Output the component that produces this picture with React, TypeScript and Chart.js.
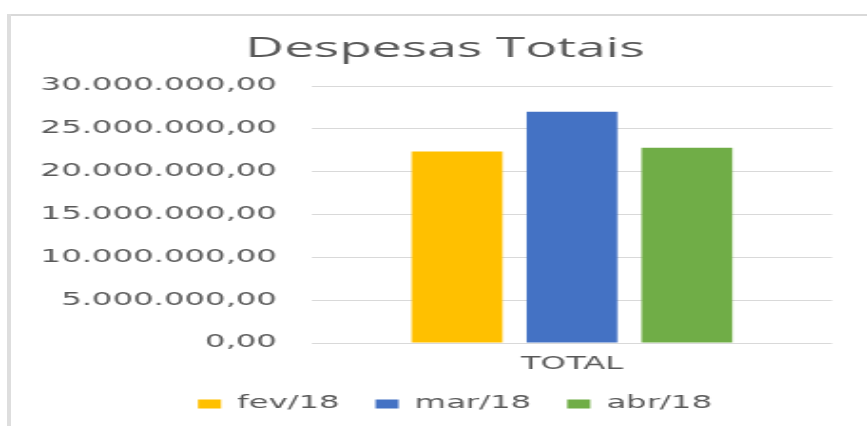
import React, { useEffect, useRef } from "react";
import { Chart, registerables } from "chart.js";

Chart.register(...registerables);

const categories = ["TOTAL"];
const seriesNames = ["fev/18", "mar/18", "abr/18"];
const fevValues = [22340000];
const marValues = [27000000];
const abrValues = [22800000];
const seriesColors = ["#FFC000", "#4472C4", "#70AD47"];
const yTicks = [0, 5000000, 10000000, 15000000, 20000000, 25000000, 30000000];

const FINAL_W = 867;
const FINAL_H = 426;
const SX = 1.9;
const CW = Math.round(FINAL_W / SX);
const sx = FINAL_W / CW;

function fmt(v: number): string {
  const s = Math.round(v).toString().replace(/\B(?=(\d{3})+(?!\d))/g, ".");
  return s + ",00";
}

const shiftBlocks = {
  id: "shiftBlocks",
  afterLayout(chart: any) {
    const t = chart.titleBlock;
    if (t) {
      t.left += 29 / sx;
      t.right += 29 / sx;
    }
    const l = chart.legend;
    if (l) {
      l.left += 39 / sx;
      l.right += 39 / sx;
    }
  },
};

export default function App() {
  const ref = useRef<HTMLCanvasElement | null>(null);
  useEffect(() => {
    if (!ref.current) return;
    const titleFont = "'Open Sans', 'Noto Sans', sans-serif";
    const font = "'DejaVu Sans', sans-serif";
    const text = "#595959";
    const chart = new Chart(ref.current, {
      type: "bar",
      data: {
        labels: categories,
        datasets: [fevValues, marValues, abrValues].map((d, i) => ({
          label: seriesNames[i],
          data: d,
          backgroundColor: seriesColors[i],
          borderWidth: 0,
          categoryPercentage: 0.663,
          barPercentage: 0.79,
        })),
      },
      plugins: [shiftBlocks],
      options: {
        responsive: false,
        animation: false,
        devicePixelRatio: 1,
        layout: { padding: { left: 0, right: 35 / sx, top: 0, bottom: 3.5 } },
        plugins: {
          title: {
            display: true,
            text: "Despesas Totais",
            color: text,
            font: { family: titleFont, size: 28, weight: "normal" },
            padding: { top: 32.7, bottom: 19.7 },
          },
          legend: {
            position: "bottom",
            labels: {
              color: text,
              font: { family: font, size: 17 },
              boxWidth: 23 / sx,
              boxHeight: 9,
              padding: 18.9,
            },
          },
          tooltip: { enabled: false },
        },
        scales: {
          x: {
            grid: { display: false, drawTicks: false },
            border: { display: false },
            ticks: { color: text, font: { family: font, size: 17 }, padding: 11.8 },
            afterFit: (s: any) => {
              s.height = 33.6;
            },
          },
          y: {
            min: 0,
            max: 30000000,
            afterBuildTicks: (s: any) => {
              s.ticks = yTicks.map((v) => ({ value: v }));
            },
            grid: { color: "#D9D9D9", lineWidth: 1, drawTicks: false },
            border: { display: false },
            ticks: {
              color: text,
              font: { family: font, size: 17 },
              padding: 35 / sx,
              callback: (v: any) => fmt(Number(v)),
            },
            afterFit: (s: any) => {
              s.width = 312 / sx;
            },
          },
        },
      },
    } as any);
    return () => chart.destroy();
  }, []);

  return (
    <div
      style={{
        position: "fixed",
        left: 0,
        top: 0,
        width: FINAL_W,
        height: FINAL_H,
        background: "#fff",
        overflow: "hidden",
      }}
    >
      <div style={{ position: "absolute", left: 7, top: 14, width: 860, height: 2, background: "#D9D9D9" }} />
      <div style={{ position: "absolute", left: 7, top: 14, width: 4, height: 412, background: "#DEDEDE" }} />
      <canvas
        ref={ref}
        width={CW}
        height={FINAL_H}
        style={{ position: "absolute", left: 0, top: 0, width: FINAL_W + "px", height: FINAL_H + "px" }}
      />
    </div>
  );
}
